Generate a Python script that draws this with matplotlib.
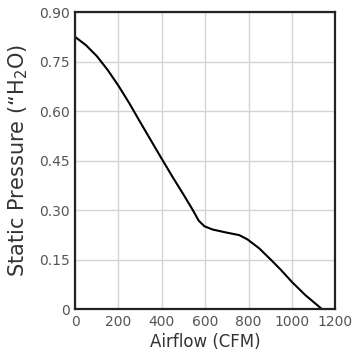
# Fan curve: static pressure vs airflow

import matplotlib.pyplot as plt

# Data
airflow = [0, 50, 100, 150, 200, 250, 300, 350, 400, 450, 500, 543, 570, 596,
           634, 696, 757, 795, 849, 902, 950, 1000, 1062, 1138]
pressure = [0.825, 0.80, 0.767, 0.725, 0.677, 0.624, 0.567, 0.511, 0.455, 0.40,
            0.347, 0.30, 0.268, 0.251, 0.241, 0.232, 0.224, 0.211, 0.184, 0.150,
            0.118, 0.082, 0.042, 0.0]

xticks = [0, 200, 400, 600, 800, 1000, 1200]
yticks = [0, 0.15, 0.30, 0.45, 0.60, 0.75, 0.90]
yticklabels = ['0', '0.15', '0.30', '0.45', '0.60', '0.75', '0.90']

fig = plt.figure(figsize=(3.59, 3.56), dpi=100)
ax = fig.add_axes([0.209, 0.132, 0.725, 0.834])

ax.plot(airflow, pressure, color='black', linewidth=1.5,
        solid_joinstyle='round')

ax.set_xlim(0, 1200)
ax.set_ylim(0, 0.9)
ax.set_xticks(xticks)
ax.set_yticks(yticks)
ax.set_yticklabels(yticklabels)

# light grid, no tick marks
ax.grid(True, color='#d4d4d4', linewidth=1)
ax.tick_params(length=0, labelsize=10, labelcolor='#555555', pad=4)
for s in ax.spines.values():
    s.set_linewidth(1.6)
    s.set_color('#222222')

ax.set_xlabel('Airflow (CFM)', fontsize=12, color='#333333', labelpad=3)
ax.set_ylabel('Static Pressure (\u201cH$_2$O)', fontsize=15, color='#333333', labelpad=6)

fig.savefig('out.png', dpi=100)
